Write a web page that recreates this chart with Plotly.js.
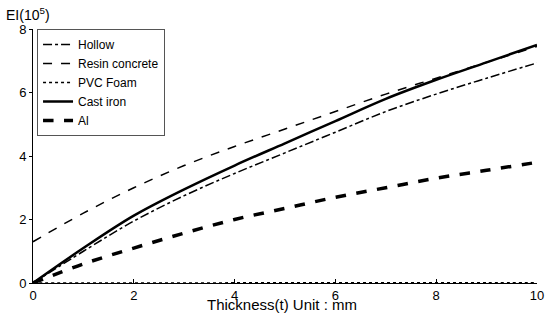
<!DOCTYPE html>
<html><head><meta charset="utf-8">
<script src="https://cdn.plot.ly/plotly-3.0.1.min.js"></script>
<style>html,body{margin:0;padding:0;background:#fff;}#chart{width:560px;height:316px;}</style>
</head><body><div id="chart"></div>
<script>
const thickness = [0, 1, 2, 3, 4, 5, 6, 7, 8, 9, 10];
const hollow = [0, 1.0, 1.95, 2.75, 3.45, 4.1, 4.75, 5.4, 5.95, 6.45, 6.93];
const resinConcrete = [1.3, 2.2, 3.0, 3.7, 4.3, 4.85, 5.4, 5.95, 6.45, 6.95, 7.45];
const pvcFoam = [0, 0.001, 0.002, 0.003, 0.004, 0.005, 0.006, 0.007, 0.008, 0.009, 0.01];
const castIron = [0, 1.1, 2.12, 2.95, 3.7, 4.4, 5.1, 5.8, 6.4, 6.95, 7.5];
const al = [0, 0.6, 1.1, 1.57, 2.0, 2.35, 2.7, 3.0, 3.3, 3.55, 3.8];
const names = ["Hollow", "Resin concrete", "PVC Foam", "Cast iron", "Al"];
const xTicks = [0, 2, 4, 6, 8, 10];
const yTicks = [0, 2, 4, 6, 8];

const series = [hollow, resinConcrete, pvcFoam, castIron, al];
const styles = [
  {dash: "dashdot", width: 1.5},
  {dash: "dash", width: 1.5},
  {dash: "dot", width: 1.5},
  {dash: "solid", width: 2.5},
  {dash: "dash", width: 3.5}
];
const traces = series.map((s, i) => ({
  x: thickness, y: s, name: names[i], type: "scatter", mode: "lines",
  line: {color: "#000", dash: styles[i].dash, width: styles[i].width, shape: "spline"}
}));

const layout = {
  width: 560, height: 316,
  margin: {l: 33, r: 23, t: 29, b: 33},
  paper_bgcolor: "#fff", plot_bgcolor: "#fff",
  font: {family: "Liberation Sans, Arial, sans-serif", size: 12, color: "#000"},
  showlegend: true,
  legend: {x: 0.008, y: 1, xanchor: "left", yanchor: "top", bordercolor: "#555", borderwidth: 1,
           bgcolor: "#fff", font: {size: 12}, tracegroupgap: 0, itemwidth: 30},
  xaxis: {range: [0, 10], tickvals: xTicks, ticktext: xTicks.map(String), showgrid: false, zeroline: false,
          showline: true, linecolor: "#000", linewidth: 1, ticks: "inside", ticklen: 4, tickcolor: "#000",
          tickfont: {size: 13}},
  yaxis: {range: [0, 8], tickvals: yTicks, ticktext: yTicks.map(String), showgrid: false, zeroline: false,
          showline: true, linecolor: "#000", linewidth: 1, ticks: "outside", ticklen: 3, tickcolor: "#000",
          tickfont: {size: 13}},
  annotations: [
    {text: "EI(10<sup>5</sup>)", xref: "paper", yref: "paper", x: -0.058, y: 1.0, xanchor: "left",
     yanchor: "bottom", yshift: 4, showarrow: false, font: {size: 14}},
    {text: "Thickness(t) Unit : mm", xref: "paper", yref: "paper", x: 0.5, y: 0, xanchor: "center",
     yanchor: "top", yshift: -11, xshift: -3, showarrow: false, font: {size: 15}}
  ]
};
Plotly.newPlot("chart", traces, layout, {displayModeBar: false, staticPlot: true});
</script></body></html>
